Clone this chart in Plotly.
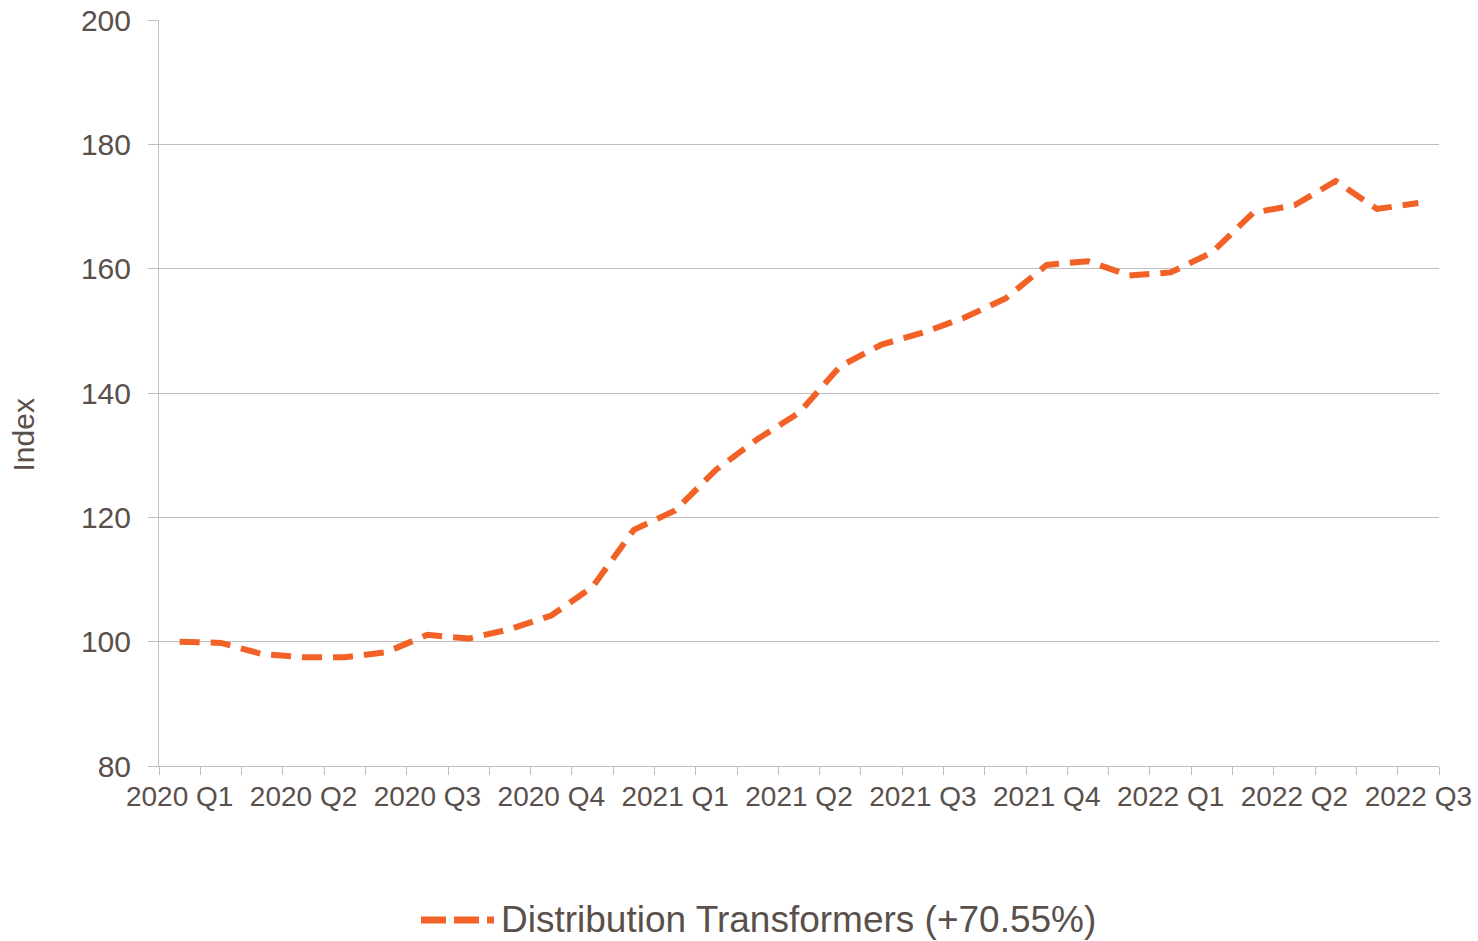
import plotly.graph_objects as go

months = [f"{y}-{m:02d}" for y in (2020, 2021, 2022) for m in range(1, 13)][:31]
values = [100.0, 99.8, 98.0, 97.5, 97.5, 98.3, 101.1, 100.5, 102.0, 104.2,
          108.8, 118.0, 121.1, 127.7, 132.6, 136.8, 144.3, 147.8, 149.7, 152.1,
          155.2, 160.6, 161.2, 158.9, 159.4, 162.6, 169.0, 170.2, 174.1, 169.6,
          170.55]
quarter_labels = ["2020 Q1", "2020 Q2", "2020 Q3", "2020 Q4",
                  "2021 Q1", "2021 Q2", "2021 Q3", "2021 Q4",
                  "2022 Q1", "2022 Q2", "2022 Q3"]
y_ticks = [80, 100, 120, 140, 160, 180, 200]
series_name = "Distribution Transformers (+70.55%)"

tick_text = []
qi = 0
for i, m in enumerate(months):
    if i % 3 == 0:
        tick_text.append(quarter_labels[qi])
        qi += 1
    else:
        tick_text.append("")

LINE = "#F26125"
TXT = "#5A504B"
GRID = "#BFBFBF"
FONT = "Liberation Sans, Arial, sans-serif"

fig = go.Figure()
fig.add_trace(go.Scatter(
    x=months, y=values, mode="lines", name=series_name,
    line=dict(color=LINE, width=6, dash="20px,11px"),
    showlegend=False,
))

fig.update_layout(
    width=1478, height=941,
    margin=dict(l=159, r=39, t=20, b=175),
    paper_bgcolor="white", plot_bgcolor="white",
    font=dict(family=FONT, color=TXT),
)
fig.update_xaxes(
    type="category", range=[-0.5, len(months) - 0.5], automargin=False,
    tickmode="array", tickvals=months, ticktext=tick_text,
    tickson="boundaries", ticks="outside", ticklen=8, tickcolor=GRID, tickwidth=1,
    showline=True, linecolor=GRID, linewidth=1, showgrid=False,
    tickfont=dict(size=28, color=TXT, family=FONT), tickangle=0,
    ticklabelstandoff=5,
)
fig.update_yaxes(
    range=[80, 200], tickvals=y_ticks, automargin=False,
    ticks="outside", ticklen=10, tickcolor=GRID, tickwidth=1,
    showline=True, linecolor=GRID, linewidth=1,
    showgrid=True, gridcolor=GRID, gridwidth=1, zeroline=False,
    tickfont=dict(size=30, color=TXT, family=FONT), ticklabelstandoff=11,
)

# y-axis title
fig.add_annotation(text="Index", xref="paper", yref="paper",
                   x=-159 / 1280 + 4 / 1280, y=(766 - 435) / 746, xanchor="left", yanchor="middle",
                   textangle=-90, showarrow=False,
                   font=dict(size=30, color=TXT, family=FONT))

# legend (manual, to match long dashed key)
fig.add_shape(type="line", xref="paper", yref="paper",
              x0=(421 - 159) / 1280, x1=(494 - 159) / 1280,
              y0=-(920 - 766) / 746, y1=-(920 - 766) / 746,
              line=dict(color=LINE, width=7, dash="25px,8px"))
fig.add_annotation(text=series_name, xref="paper", yref="paper",
                   x=(499 - 159) / 1280, y=-(920 - 766) / 746,
                   xanchor="left", yanchor="middle", showarrow=False,
                   font=dict(size=37, color=TXT, family=FONT))

fig.write_html("out.html", config={"displayModeBar": False},
               post_script="document.body.style.margin='0';document.body.style.overflow='hidden';")
